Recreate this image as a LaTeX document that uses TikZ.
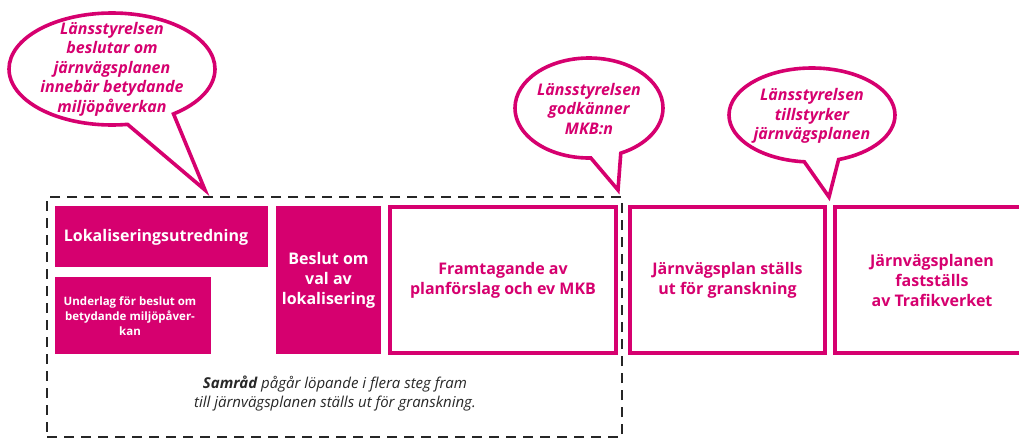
\documentclass[tikz,border=0pt]{standalone}
\usepackage{fontspec}
\setmainfont{Open Sans}
\usetikzlibrary{shapes.callouts,shapes.geometric}
\definecolor{mag}{RGB}{214,0,111}
\definecolor{txtgray}{RGB}{40,40,40}
\begin{document}
\begin{tikzpicture}[x=1pt,y=-1pt,
  fillbox/.style={fill=mag, text=white, align=center, inner sep=0pt, outer sep=0pt, anchor=north west,
    font=\bfseries\fontsize{16}{20}\selectfont},
  smallbox/.style={fillbox, font=\bfseries\fontsize{11.5}{15}\selectfont},
  linebox/.style={draw=mag, line width=4pt, fill=white, text=mag, align=center, inner sep=0pt, outer sep=0pt,
    anchor=north west, font=\bfseries\fontsize{16}{20}\selectfont},
  frame/.style={draw=black!85, line width=2.8pt, dash pattern=on 10pt off 7pt, inner sep=0pt, outer sep=0pt, anchor=north west},
  bubble/.style={ellipse callout, draw=mag, fill=white, line width=3.6pt, inner sep=0pt, outer sep=0pt},
  bubtext/.style={text=mag, align=center, inner sep=0pt, font=\bfseries\itshape\fontsize{16}{19.5}\selectfont},
  note/.style={text=txtgray, align=center, inner sep=0pt, font=\itshape\fontsize{15}{19}\selectfont}]
\clip (0,0) rectangle (1019,439);
\fill[white] (0,0) rectangle (1019,439);

% dashed frame
\node[frame, minimum width=575pt, minimum height=240pt] (frm) at (47,197) {};

% filled boxes
\node[fillbox, minimum width=213pt, minimum height=61pt] (lok) at (55,206) {};
\node[fillbox, anchor=center] at (156,237) {Lokaliseringsutredning};
\node[smallbox, minimum width=156pt, minimum height=77pt] (und) at (55,277) {};
\node[smallbox, anchor=center] at (130,316) {Underlag för beslut om\\betydande miljöpåver-\\kan};
\node[fillbox, minimum width=105pt, minimum height=148pt] (bes) at (276,206) {Beslut om\\val av\\lokalisering};

% outlined boxes
\node[linebox, minimum width=226pt, minimum height=146pt] (fram) at (390,207) {Framtagande av\\planförslag och ev MKB};
\node[linebox, minimum width=195pt, minimum height=146pt] (gran) at (630,207) {Järnvägsplan ställs\\ut för granskning};
\node[linebox, minimum width=230pt, minimum height=146pt] (fast) at (835,207) {};
\node[linebox, draw=none, fill=none, anchor=center] at (932,280) {Järnvägsplanen\\fastställs\\av Trafikverket};

% note
\node[note] (samr) at (335,394) {\textbf{Samråd} pågår löpande i flera steg fram\\till järnvägsplanen ställs ut för granskning.};

% bubbles
\coordinate (t1) at (205,190);
\coordinate (t2) at (618,190);
\coordinate (t3) at (829,197);
\node[bubble, minimum width=206pt, minimum height=112pt, callout pointer arc=28, callout absolute pointer={(t1)}] (b1) at (112,69) {};
\node[bubtext] at (b1.center) {Länsstyrelsen\\beslutar om\\järnvägsplanen\\innebär betydande\\miljöpåverkan};
\node[bubble, minimum width=148pt, minimum height=100pt, callout pointer arc=24, callout absolute pointer={(t2)}] (b2) at (589,108) {};
\node[bubtext] at ([yshift=-1pt]b2.center) {Länsstyrelsen\\godkänner\\MKB:n};
\node[bubble, minimum width=166pt, minimum height=94pt, callout pointer arc=24, callout absolute pointer={(t3)}] (b3) at (812,115) {};
\node[bubtext] at ([yshift=-1pt]b3.center) {Länsstyrelsen\\tillstyrker\\järnvägsplanen};
\end{tikzpicture}
\end{document}
